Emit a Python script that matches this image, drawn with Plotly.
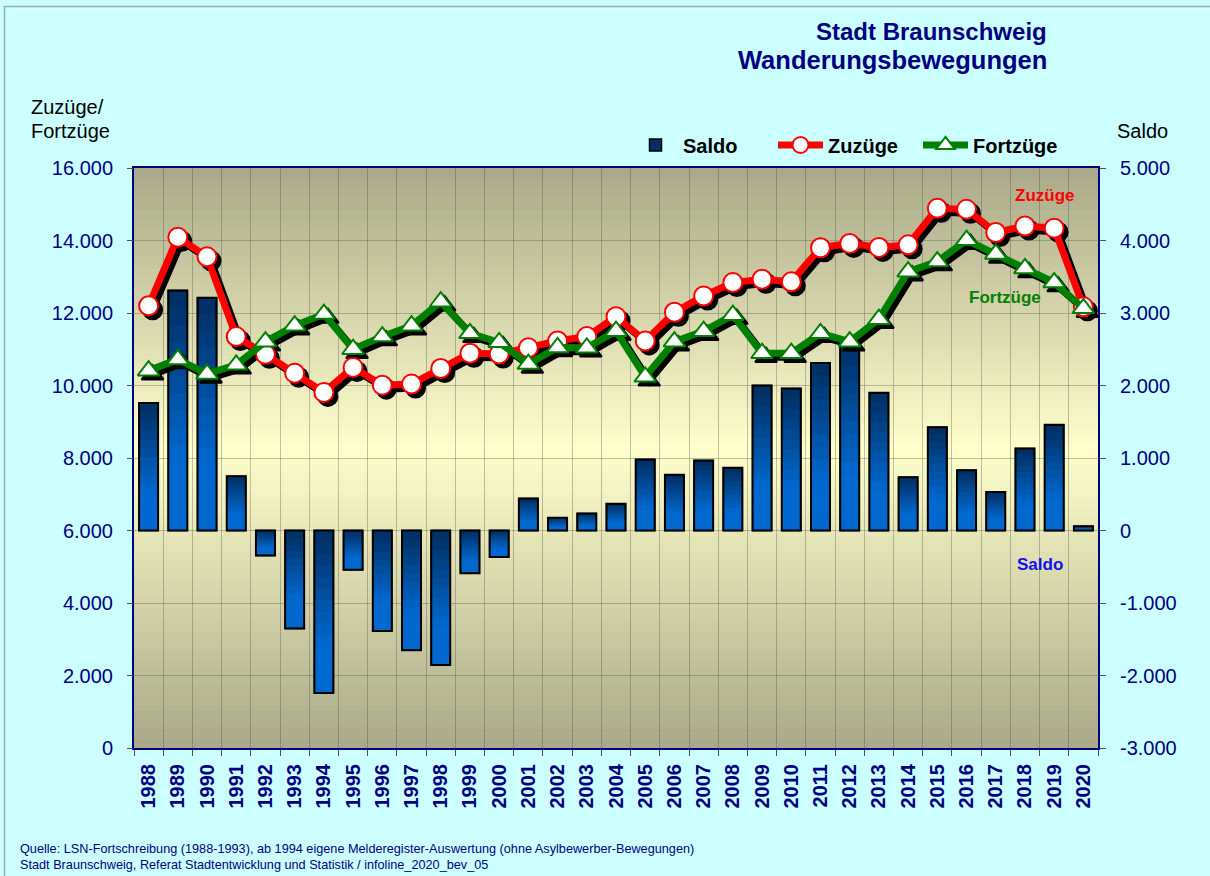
import plotly.graph_objects as go

# ---------------- data ----------------
years = [str(y) for y in range(1988, 2021)]

saldo = [1760, 3310, 3210, 750, -345, -1350, -2240, -540, -1385, -1650, -1855,
         -590, -365, 440, 175, 235, 370, 980, 770, 965, 865, 2000, 1960, 2310,
         2650, 1900, 735, 1425, 830, 530, 1130, 1460, 60]

zuzuege = [12200, 14090, 13550, 11350, 10860, 10340, 9810, 10500, 10010, 10040,
           10470, 10890, 10870, 11040, 11230, 11350, 11900, 11230, 12020, 12470,
           12840, 12930, 12860, 13800, 13920, 13810, 13880, 14890, 14860, 14220,
           14400, 14340, 12170]

fortzuege = [10410, 10720, 10320, 10570, 11210, 11650, 11970, 11000, 11350, 11650,
             12310, 11440, 11190, 10590, 11050, 11040, 11500, 10240, 11210, 11500,
             11940, 10890, 10890, 11440, 11210, 11830, 13140, 13420, 14010, 13630,
             13230, 12840, 12130]

left_tickvals = [0, 2000, 4000, 6000, 8000, 10000, 12000, 14000, 16000]
left_ticktext = ["0", "2.000", "4.000", "6.000", "8.000", "10.000", "12.000", "14.000", "16.000"]
right_tickvals = [-3000, -2000, -1000, 0, 1000, 2000, 3000, 4000, 5000]
right_ticktext = ["-3.000", "-2.000", "-1.000", "0", "1.000", "2.000", "3.000", "4.000", "5.000"]

# ---------------- geometry / style ----------------
W, H = 1210, 876
ML, MT = 134, 168
PLOT_R, PLOT_B = 1098, 748
SH = 4  # drop-shadow offset in px
MR = W - PLOT_R - SH
MB = H - PLOT_B - SH
PW = W - ML - MR
PH = H - MT - MB
dx1 = (PLOT_R - ML) / PW
dy0 = SH / PH
sx0 = SH / PW
sy1 = 1 - SH / PH


def px_x(px):
    return (px - ML) / PW


def px_y(py):
    return (H - MB - py) / PH


NAVY = "#000080"
FONT = "Arial, Liberation Sans, sans-serif"
GRID = "rgba(70,70,60,0.33)"
TICKC = "#505050"

fig = go.Figure()

# ---------------- Saldo bars (layered for vertical gradient) ----------------
N = 14
dark = (0, 45, 95)
bright = (0, 104, 206)


def grad(t):
    u = min(1.0, max(0.0, t / 0.7))
    return "rgb(%d,%d,%d)" % tuple(round(d + (b - d) * u) for d, b in zip(dark, bright))


BW = 0.65
for k in range(N):
    f = 1 - k / N
    m = f - 0.5 / N
    cols = [grad(1 - m) if v >= 0 else grad(m) for v in saldo]
    fig.add_trace(go.Bar(
        x=years, y=[v * f for v in saldo], width=BW,
        marker=dict(color=cols, line=dict(color="black", width=1.5 if k == 0 else 0)),
        name="Saldo", showlegend=(k == 0), legendgroup="saldo",
        xaxis="x", yaxis="y", hoverinfo="skip"))

fig.add_trace(go.Bar(
    x=years, y=saldo, width=BW,
    marker=dict(color="rgba(0,0,0,0)", line=dict(color="black", width=2)),
    showlegend=False, legendgroup="saldo", xaxis="x", yaxis="y", hoverinfo="skip"))

# ---------------- shadows ----------------
for ys, sym in ((zuzuege, "circle"), (fortzuege, "triangle-up")):
    fig.add_trace(go.Scatter(
        x=years, y=ys, xaxis="x2", yaxis="y2", mode="lines+markers",
        line=dict(color="black", width=7),
        marker=dict(symbol=sym, size=19, color="black", line=dict(color="black", width=2)),
        showlegend=False, hoverinfo="skip"))

# ---------------- lines ----------------
fig.add_trace(go.Scatter(
    x=years, y=zuzuege, xaxis="x3", yaxis="y3", mode="lines+markers", name="Zuzüge",
    line=dict(color="#FF0000", width=7),
    marker=dict(symbol="circle", size=19, color="white", line=dict(color="#FF0000", width=2))))
fig.add_trace(go.Scatter(
    x=years, y=fortzuege, xaxis="x3", yaxis="y3", mode="lines+markers", name="Fortzüge",
    line=dict(color="#008000", width=7),
    marker=dict(symbol="triangle-up", size=19, color="white", line=dict(color="#008000", width=2))))

# ---------------- background gradient ----------------
top_c = (169, 168, 137)
mid_c = (255, 255, 204)
shapes = []
NS = 80
t_mid = 0.485
for i in range(NS):
    t = (i + 0.5) / NS  # from top
    if t < t_mid:
        u = t / t_mid
    else:
        u = (1 - t) / (1 - t_mid)
    c = tuple(round(a + (b - a) * u) for a, b in zip(top_c, mid_c))
    y_top = 1 - (1 - dy0) * i / NS
    y_bot = 1 - (1 - dy0) * (i + 1) / NS
    shapes.append(dict(type="rect", xref="paper", yref="paper", x0=0, x1=dx1,
                       y0=y_bot - 0.0005, y1=y_top + 0.0005, layer="below",
                       line=dict(width=0), fillcolor="rgb(%d,%d,%d)" % c))

# outer frame of the chart area
shapes.append(dict(type="rect", xref="paper", yref="paper",
                   x0=px_x(4.5), x1=px_x(1215), y0=px_y(880), y1=px_y(6.5),
                   layer="below", line=dict(color="#98AEAE", width=1.5),
                   fillcolor="rgba(0,0,0,0)"))

# ---------------- annotations ----------------
ann = []


def add_text(text, px, py, size, color, xanchor="left", bold=False):
    ann.append(dict(text=text, x=px_x(px), y=px_y(py), xref="paper", yref="paper",
                    xanchor=xanchor, yanchor="middle", showarrow=False,
                    font=dict(family=FONT, size=size, color=color,
                              weight="bold" if bold else "normal")))


add_text("Stadt Braunschweig", 1049, 31, 24, NAVY, "right", True)
add_text("Wanderungsbewegungen", 1049, 60, 25.5, NAVY, "right", True)
add_text("Zuzüge/", 29, 107, 20, "black")
add_text("Fortzüge", 29, 131, 20, "black")
add_text("Saldo", 1115, 131, 20, "black")
add_text("Zuzüge", 1045, 195, 17, "#FF0000", "center", True)
add_text("Fortzüge", 1005, 297, 17, "#008000", "center", True)
add_text("Saldo", 1040, 564, 17, "#1010F0", "center", True)
add_text("Quelle: LSN-Fortschreibung (1988-1993), ab 1994 eigene Melderegister-Auswertung (ohne Asylbewerber-Bewegungen)",
         18, 849, 12.7, NAVY)
add_text("Stadt Braunschweig, Referat Stadtentwicklung und Statistik / infoline_2020_bev_05",
         18, 865, 12.7, NAVY)

xcommon = dict(type="category", categoryorder="array", categoryarray=years,
               range=[-0.5, len(years) - 0.5])

fig.update_layout(
    width=W, height=H,
    margin=dict(l=ML, r=MR, t=MT, b=MB, pad=0),
    paper_bgcolor="#CCFFFF", plot_bgcolor="rgba(0,0,0,0)",
    barmode="overlay", bargap=0.35,
    font=dict(family=FONT),
    showlegend=True,
    legend=dict(orientation="h", x=px_x(628), xanchor="left", y=px_y(145), yanchor="middle",
                font=dict(family=FONT, size=20, color="black", weight="bold"),
                bgcolor="rgba(0,0,0,0)", traceorder="normal", itemwidth=45,
                entrywidth=85, entrywidthmode="pixels"),
    xaxis=dict(**xcommon, domain=[0, dx1], anchor="y", tickson="boundaries",
               ticks="outside", ticklen=6, tickcolor=TICKC, showgrid=True,
               gridcolor=GRID, gridwidth=1, showline=True, linecolor=NAVY,
               linewidth=2, mirror=True, tickangle=-90, ticklabelstandoff=6,
               tickfont=dict(family=FONT, size=20, color=NAVY, weight="bold")),
    yaxis=dict(domain=[dy0, 1], anchor="x", side="right", range=[-3000, 5000],
               tickvals=right_tickvals, ticktext=right_ticktext, ticks="outside",
               ticklen=6, tickcolor=TICKC, showgrid=True, gridcolor=GRID,
               gridwidth=1, showline=True, linecolor=NAVY, linewidth=2,
               mirror=True, zeroline=False, ticklabelstandoff=10,
               tickfont=dict(family=FONT, size=20, color=NAVY)),
    xaxis2=dict(**xcommon, domain=[sx0, 1], anchor="y2", visible=False),
    yaxis2=dict(domain=[0, sy1], anchor="x2", range=[0, 16000], visible=False),
    xaxis3=dict(**xcommon, domain=[0, dx1], anchor="y3", visible=False),
    yaxis3=dict(domain=[dy0, 1], anchor="x3", side="left", range=[0, 16000],
                tickvals=left_tickvals, ticktext=left_ticktext, ticks="outside",
                ticklen=6, tickcolor=TICKC, showgrid=False, zeroline=False,
                showline=False, ticklabelstandoff=10,
                tickfont=dict(family=FONT, size=20, color=NAVY)),
    shapes=shapes,
    annotations=ann,
    hovermode=False,
)

fig.write_html("out.html", config={"displayModeBar": False},
               post_script="document.body.style.margin='0';document.body.style.padding='0';")
